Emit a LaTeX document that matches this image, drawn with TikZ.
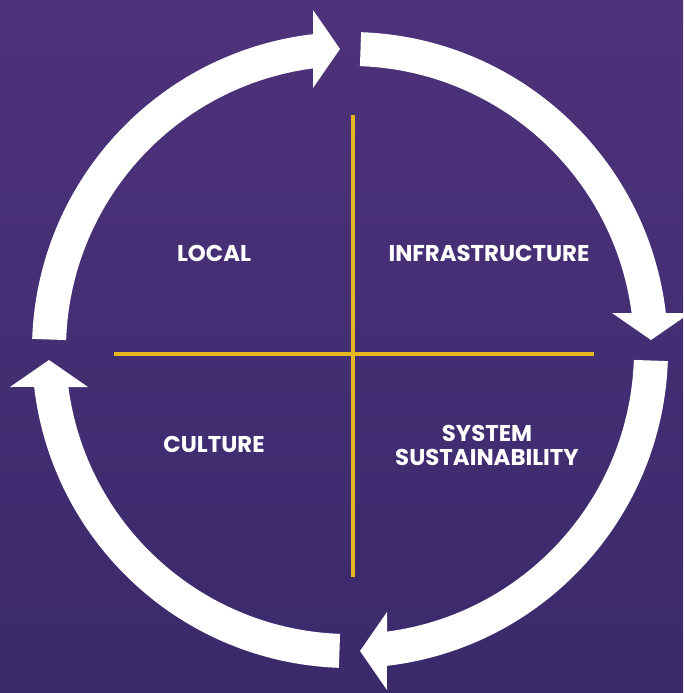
\documentclass[tikz,border=0pt]{standalone}
\usepackage{fontspec}
\setmainfont{Poppins}
\usetikzlibrary{positioning}
\definecolor{bgtop}{HTML}{4E327B}
\definecolor{bgbottom}{HTML}{3A2A6B}
\definecolor{crossyellow}{HTML}{E6B820}

\begin{document}
\begin{tikzpicture}[x=0.02cm, y=0.02cm,
  band/.style={fill=white},
  cross/.style={draw=crossyellow, line width=0.08cm},
  quad/.style={text=white, font=\bfseries\fontsize{13}{13.7}\selectfont, align=center}
]
  \fill[top color=bgtop, bottom color=bgbottom] (-350,-343) rectangle (333,350);
  \useasboundingbox (-350,-343) rectangle (333,350);

  % four arrow segments, clockwise (drawn for the top one, then turned)
  \foreach \r in {0,-90,-180,-270}{
    \fill[band, rotate=\r] (178:318) arc[start angle=178, end angle=96.68, radius=318]
      -- (-37,340) -- (-10,301) -- (-37,262) -- (-37,281.6)
      arc[start angle=97.48, end angle=178, radius=284] -- cycle;
  }

  \coordinate (vtop) at (3,235);
  \coordinate (vbot) at (3,-227);
  \coordinate (hleft) at (-236,-4);
  \coordinate (hright) at (244,-4);
  \draw[cross] (vtop) -- (vbot);
  \draw[cross] (hleft) -- (hright);

  \node[quad] (local) at (-136,97) {LOCAL};
  \node[quad] (infra) at (139,97) {INFRASTRUCTURE};
  \node[quad] (culture) at (-136,-94) {CULTURE};
  \node[quad] (system) at (137,-95) {SYSTEM\\SUSTAINABILITY};
\end{tikzpicture}
\end{document}
